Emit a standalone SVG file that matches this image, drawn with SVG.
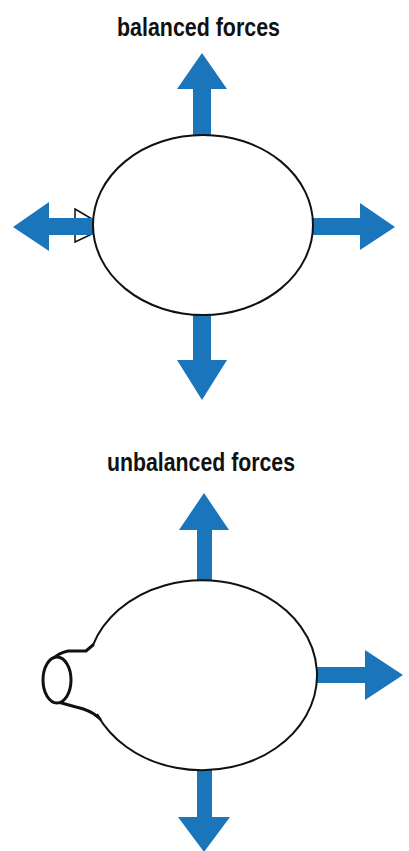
<svg xmlns="http://www.w3.org/2000/svg" width="409" height="851" viewBox="0 0 409 851">
  <style>
    .title { font-family: "Liberation Sans Narrow", "Liberation Sans", Arial, sans-serif; font-weight: bold; font-size: 25px; fill: #111; }
    .force { fill: #1b75bb; }
    .outline { fill: #fff; stroke: #111; stroke-width: 2; }
    .blank { fill: #fff; stroke: none; }
    .thick { fill: #fff; stroke: #111; stroke-width: 3; stroke-linejoin: round; }
    .line { fill: none; stroke: #111; stroke-width: 3; stroke-linejoin: round; stroke-linecap: round; }
  </style>
  <rect width="409" height="851" fill="#fff"/>

  <!-- Balanced forces -->
  <g id="balanced">
    <text class="title" x="117" y="36" textLength="163" lengthAdjust="spacingAndGlyphs">balanced forces</text>
    <polygon id="knot" points="75,209 92,219 92,234 75,242" fill="#fff" stroke="#111" stroke-width="1.5"/>
    <g id="balanced-forces" class="force">
      <polygon points="202,53 227,89 211,89 211,140 193,140 193,89 177,89"/>
      <polygon points="193,310 211,310 211,360 227,360 202,400 177,360 193,360"/>
      <polygon points="13,227 49,202 49,218 100,218 100,235 49,235 49,251"/>
      <polygon points="305,218 360,218 360,203 395,227 360,250 360,235 305,235"/>
    </g>
    <ellipse id="balloon-closed" class="outline" cx="203" cy="225" rx="110" ry="90"/>
  </g>

  <!-- Unbalanced forces -->
  <g id="unbalanced">
    <text class="title" x="107" y="471" textLength="188" lengthAdjust="spacingAndGlyphs">unbalanced forces</text>
    <g id="unbalanced-forces" class="force">
      <polygon points="204,493 229,530 212,530 212,590 197,590 197,530 179,530"/>
      <polygon points="310,667 365,667 365,650 403,675 365,700 365,683 310,683"/>
      <polygon points="197,760 212,760 212,817 230,817 204,852 178,817 197,817"/>
    </g>
    <g id="balloon-open">
      <path class="blank" d="M 93 645 A 115 95 0 1 1 97 714 Z"/>
      <path class="outline" d="M 93 645 A 115 95 0 1 1 97 714" style="fill:none"/>
      <path class="line" d="M 52 660 Q 58 653 68 651 L 86 651 L 93 645"/>
      <path class="line" d="M 58 702 L 76 707 Q 90 710 98 717 L 100 719"/>
      <ellipse class="thick" cx="57" cy="680" rx="14" ry="23"/>
    </g>
  </g>
</svg>
